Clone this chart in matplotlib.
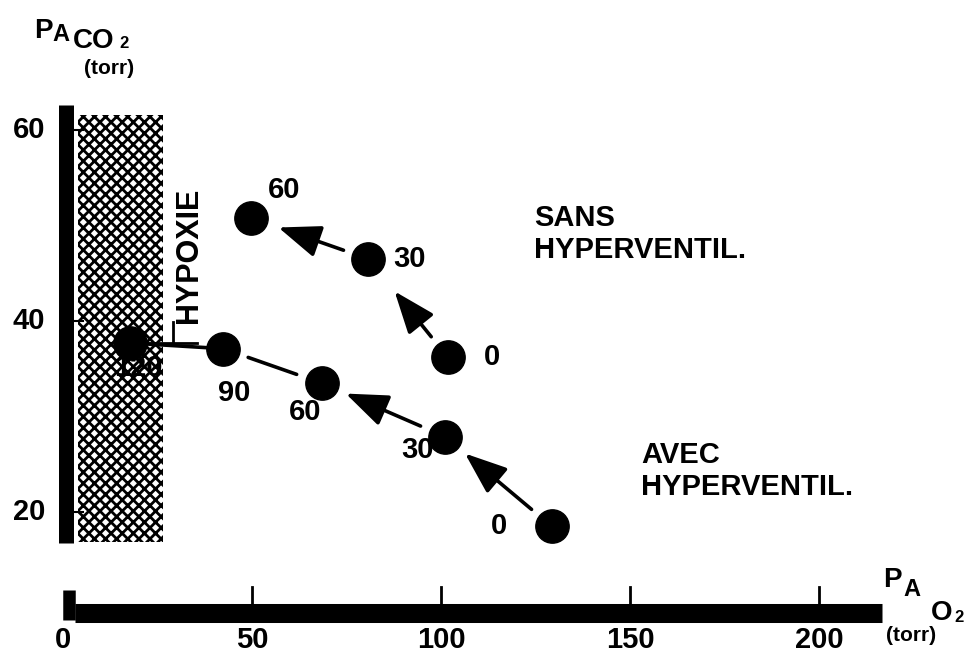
import matplotlib.pyplot as plt
from matplotlib.patches import Rectangle

# PAO2 / PACO2 (torr) en fonction du temps (min)
sans_t = [0, 30, 60]
sans_pao2 = [101.8, 80.8, 49.7]
sans_paco2 = [36.2, 46.5, 50.8]

avec_t = [0, 30, 60, 90, 120]
avec_pao2 = [129.3, 101.0, 68.4, 42.4, 17.7]
avec_paco2 = [18.5, 27.9, 33.5, 37.1, 37.7]
avec_arrow = [True, True, False, False]

x_ticks = [0, 50, 100, 150, 200]
y_ticks = [20, 40, 60]
hypoxie_x = (4.0, 26.5)
hypoxie_y = (16.9, 61.6)

W, H = 969, 657
plt.rcParams['font.family'] = ['Liberation Sans', 'DejaVu Sans']


def px2x(px):
    return (px - 63) / 3.78


def px2y(py):
    return 60 - (py - 130) / 9.55


fig = plt.figure(figsize=(W / 100, H / 100), dpi=100)
ax = fig.add_axes([0, 0, 1, 1])
ax.set_xlim(px2x(0), px2x(W))
ax.set_ylim(px2y(H), px2y(0))
ax.axis('off')

fs = 21
tkw = dict(fontsize=fs, fontweight='bold', color='black')

# zone hypoxie
plt.rcParams['hatch.linewidth'] = 2.0
ax.add_patch(Rectangle((hypoxie_x[0], hypoxie_y[0]), hypoxie_x[1] - hypoxie_x[0],
                       hypoxie_y[1] - hypoxie_y[0], facecolor='white', edgecolor='black',
                       hatch='xxx', linewidth=0, zorder=1))

# axe y
ax.plot([px2x(65.5)] * 2, [px2y(105), px2y(543)], color='black', lw=10.8,
        solid_capstyle='butt', zorder=3)
for v in y_ticks:
    ax.plot([px2x(72), px2x(83)], [v, v], color='black', lw=1.5, zorder=3)
    ax.text(px2x(45), v, str(v), ha='right', va='center', **tkw)

# axe x
ax.plot([px2x(75), px2x(882)], [px2y(612.5)] * 2, color='black', lw=13.7,
        solid_capstyle='butt', zorder=3)
ax.plot([px2x(68.5)] * 2, [px2y(590), px2y(620)], color='black', lw=9,
        solid_capstyle='butt', zorder=3)
for v in x_ticks:
    if v > 0:
        ax.plot([v, v], [px2y(587), px2y(604)], color='black', lw=2, zorder=3)
    ax.text(v, px2y(626), str(v), ha='center', va='top', **tkw)

# titres d'axes
ax.text(px2x(34), px2y(38), 'P', ha='left', va='baseline', fontsize=20, fontweight='bold')
ax.text(px2x(52), px2y(41), 'A', ha='left', va='baseline', fontsize=17, fontweight='bold')
ax.text(px2x(73), px2y(48), 'CO', ha='left', va='baseline', fontsize=20, fontweight='bold')
ax.text(px2x(119), px2y(48), '2', ha='left', va='baseline', fontsize=12, fontweight='bold')
ax.text(px2x(84), px2y(74), '(torr)', ha='left', va='baseline', fontsize=15, fontweight='bold')

ax.text(px2x(883), px2y(587), 'P', ha='left', va='baseline', fontsize=20, fontweight='bold')
ax.text(px2x(903), px2y(596), 'A', ha='left', va='baseline', fontsize=17, fontweight='bold')
ax.text(px2x(931), px2y(620), 'O', ha='left', va='baseline', fontsize=20, fontweight='bold')
ax.text(px2x(954), px2y(622), '2', ha='left', va='baseline', fontsize=12, fontweight='bold')
ax.text(px2x(886), px2y(641), '(torr)', ha='left', va='baseline', fontsize=15, fontweight='bold')


def connect(p0, p1, arrow, shrink_a=19, shrink_b=19):
    style = '-|>,head_length=26,head_width=10' if arrow else '-'
    ax.annotate('', xy=p1, xytext=p0,
                arrowprops=dict(arrowstyle=style, color='black', lw=2.6,
                                shrinkA=shrink_a, shrinkB=shrink_b, mutation_scale=1),
                zorder=4)


# sans hyperventilation
for i in range(len(sans_t) - 1):
    connect((sans_pao2[i], sans_paco2[i]), (sans_pao2[i + 1], sans_paco2[i + 1]), True,
            shrink_b=30 if i == 0 else 21)
ax.plot(sans_pao2, sans_paco2, 'o', color='black', ms=24, zorder=5)

# avec hyperventilation
for i in range(len(avec_t) - 1):
    connect((avec_pao2[i], avec_paco2[i]), (avec_pao2[i + 1], avec_paco2[i + 1]), avec_arrow[i],
            shrink_a=19 if i < 3 else 10, shrink_b=19 if i < 3 else 8)
ax.plot(avec_pao2, avec_paco2, 'o', color='black', ms=24, zorder=5)

# etiquettes de temps
sans_off = [(26, 0, 'left'), (18, 0, 'left'), (12, 20, 'left')]
for t, x, y, (dx, dy, ha) in zip(sans_t, sans_pao2, sans_paco2, sans_off):
    ax.annotate(str(t), (x, y), xytext=(dx, dy), textcoords='offset points',
                ha=ha, va='center', **tkw, zorder=6)

avec_off = [(-32, 0, 'right'), (-8, -10, 'right'), (-12, -21, 'center'),
            (8, -32, 'center'), (6, -18, 'center')]
for t, x, y, (dx, dy, ha) in zip(avec_t, avec_pao2, avec_paco2, avec_off):
    ax.annotate(str(t), (x, y), xytext=(dx, dy), textcoords='offset points',
                ha=ha, va='center', **tkw, zorder=6)

# hypoxie
ax.text(px2x(189), px2y(255), 'HYPOXIE', rotation=90, ha='center', va='center',
        fontsize=22, fontweight='bold')
ax.plot([px2x(173)] * 2, [avec_paco2[-1], px2y(322)], color='black', lw=2, zorder=4)
ax.plot([avec_pao2[-1], px2x(197)], [avec_paco2[-1]] * 2, color='black', lw=2, zorder=4)

ax.text(px2x(534), px2y(234), 'SANS\nHYPERVENTIL.', ha='left', va='center',
        fontsize=fs, fontweight='bold', linespacing=1.15)
ax.text(px2x(641), px2y(471), 'AVEC\nHYPERVENTIL.', ha='left', va='center',
        fontsize=fs, fontweight='bold', linespacing=1.15)

fig.savefig('out.png', dpi=100)
